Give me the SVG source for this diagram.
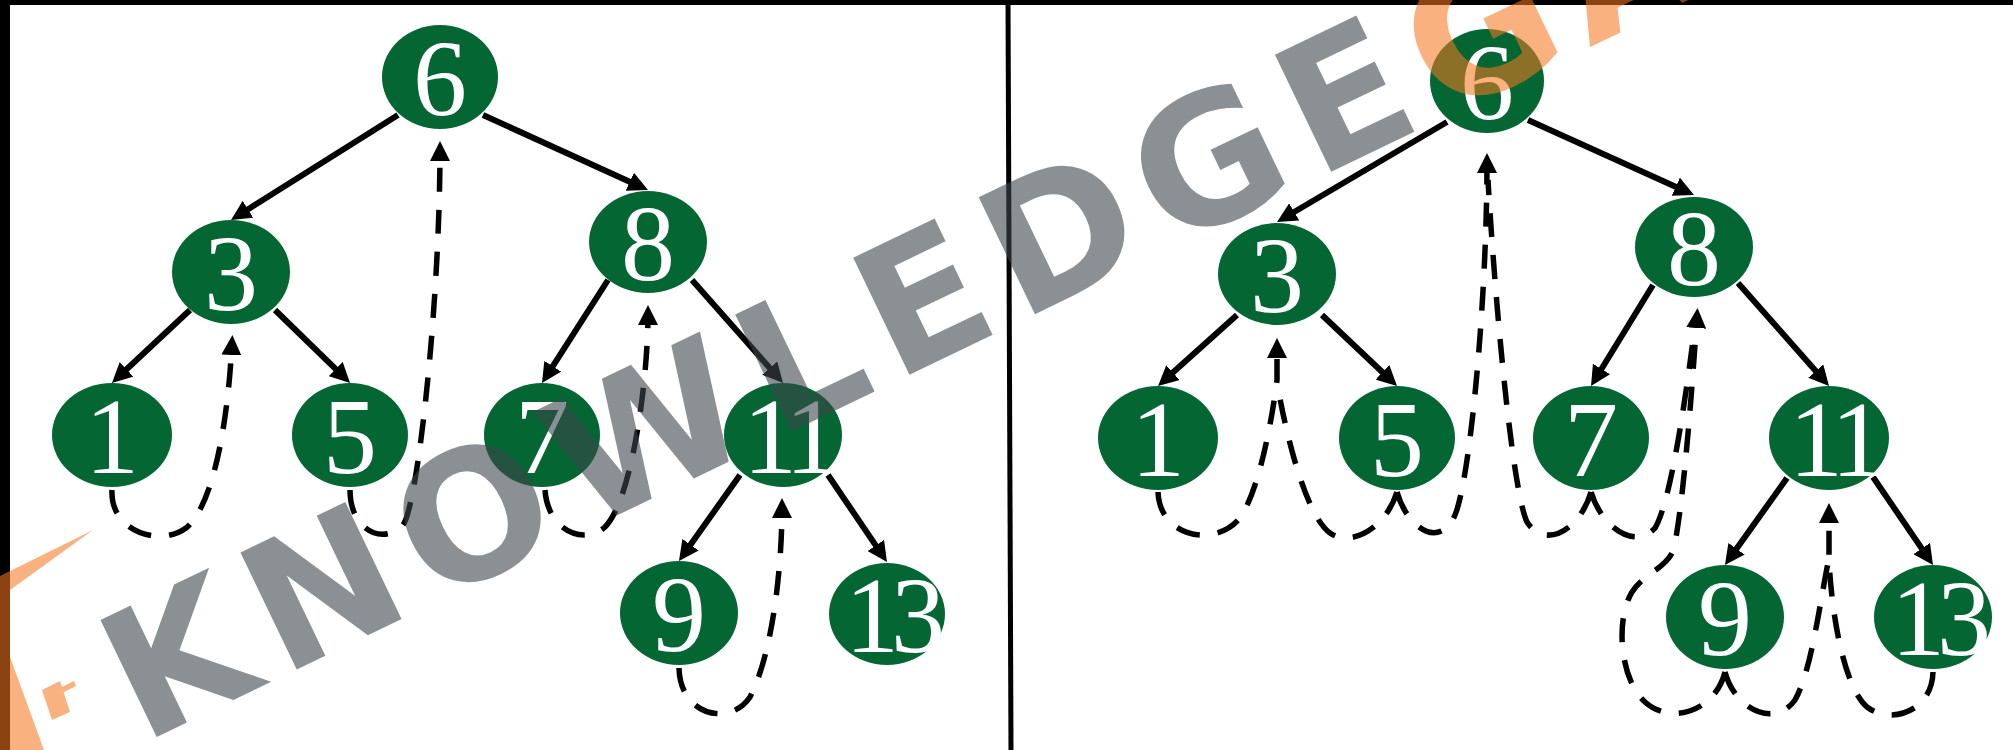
<svg xmlns="http://www.w3.org/2000/svg" width="2013" height="750" viewBox="0 0 2013 750">
<style>
.node ellipse{fill:#036633}
.node text{font-family:"Liberation Serif","Times New Roman",serif;font-size:108px;fill:#fff;text-anchor:middle}
.node text.two{letter-spacing:-8px}
.edge{stroke:#000;stroke-width:6;fill:none}
.arr{marker-end:url(#ah)}
.thread{stroke:#000;stroke-width:5.5;fill:none;stroke-dasharray:24 18}
.frame{fill:#000}
.wm{font-family:"DejaVu Sans",sans-serif;font-weight:bold;font-size:178px;letter-spacing:17.5px}
.wmg{fill:#3C464D;fill-opacity:0.6}
.wmo{fill:#F5781E;fill-opacity:0.57}
</style>
<defs>
<marker id="ah" markerUnits="userSpaceOnUse" viewBox="0 0 20 20" markerWidth="20" markerHeight="20" refX="12" refY="10" orient="auto">
<path d="M0,0 L20,10 L0,20 z" fill="#000"/>
</marker>
</defs>
<rect x="0" y="0" width="2013" height="750" fill="#fff"/>
<g id="frame">
<rect class="frame" x="0" y="0" width="2013" height="5"/>
<rect class="frame" x="0" y="0" width="10" height="750"/>
<path d="M1008,0 L1011,750" stroke="#000" stroke-width="5" fill="none"/>
</g>
<g id="connectors">
<path class="edge arr" d="M398,115 L237.8,215.7"/>
<path class="edge arr" d="M483,115 L640.7,186.7"/>
<path class="edge arr" d="M190,310 L117.8,377.5"/>
<path class="edge arr" d="M275,310 L344.3,377.4"/>
<path class="edge arr" d="M608,280 L546.3,376.3"/>
<path class="edge arr" d="M692,280 L777.7,377"/>
<path class="edge arr" d="M740,475 L683.6,554.5"/>
<path class="edge arr" d="M828,475 L882.5,555.4"/>
<path class="thread arr" d="M112,490 C110,532 160,547 186,528 C214,505 228,420 232,343"/>
<path class="thread arr" d="M350,490 C350,532 385,545 403,525 C418,505 440,300 440,149"/>
<path class="thread arr" d="M545,490 C548,532 585,545 605,527 C632,500 648,380 648,313"/>
<path class="thread arr" d="M679,668 C680,716 730,727 750,697 C772,655 782,570 782,506"/>
<path class="edge arr" d="M1447,122 L1283.9,218"/>
<path class="edge arr" d="M1528,120 L1686.7,191.7"/>
<path class="edge arr" d="M1237,315 L1164,380.6"/>
<path class="edge arr" d="M1322,315 L1391.2,380.5"/>
<path class="edge arr" d="M1653,285 L1595.2,379.2"/>
<path class="edge arr" d="M1738,283 L1823.7,380"/>
<path class="edge arr" d="M1787,478 L1729.6,558.5"/>
<path class="edge arr" d="M1873,477 L1928.5,558.4"/>
<path class="thread arr" d="M1158,492 C1160,540 1220,548 1242,515 C1260,485 1272,420 1277,380 L1277,346"/>
<path class="thread" d="M1397,492 C1385,530 1350,547 1330,533 C1305,515 1285,430 1277,382"/>
<path class="thread arr" d="M1397,492 C1407,528 1440,550 1455,515 C1470,480 1487,300 1487,161"/>
<path class="thread" d="M1591,492 C1580,530 1545,550 1527,522 C1512,490 1495,300 1488,180"/>
<path class="thread" d="M1591,492 C1602,528 1635,550 1655,528 C1672,500 1688,380 1695,325"/>
<path class="thread arr" d="M1725,672 C1715,712 1670,725 1645,702 C1620,680 1615,620 1632,592 C1645,572 1668,568 1674,548 C1682,510 1690,420 1697,316"/>
<path class="thread" d="M1725,672 C1735,710 1775,728 1795,700 C1812,670 1820,600 1829,558"/>
<path class="thread arr" d="M1933,672 C1932,712 1890,725 1867,707 C1845,688 1832,620 1829,560 L1829,511"/>
</g>
<g id="L6" class="node"><ellipse cx="440" cy="77" rx="58" ry="52"/><text x="440" y="115">6</text></g>
<g id="L3" class="node"><ellipse cx="231" cy="272" rx="59" ry="52"/><text x="231" y="310">3</text></g>
<g id="L8" class="node"><ellipse cx="648" cy="242" rx="59" ry="51"/><text x="648" y="280">8</text></g>
<g id="L1" class="node"><ellipse cx="112" cy="435" rx="60" ry="52"/><text x="112" y="473">1</text></g>
<g id="L5" class="node"><ellipse cx="350" cy="435" rx="58" ry="52"/><text x="350" y="473">5</text></g>
<g id="L7" class="node"><ellipse cx="542" cy="435" rx="58" ry="52"/><text x="542" y="473">7</text></g>
<g id="L11" class="node"><ellipse cx="783" cy="435" rx="59" ry="52"/><text class="two" x="787" y="473">11</text></g>
<g id="L9" class="node"><ellipse cx="679" cy="613" rx="59" ry="52"/><text x="679" y="651">9</text></g>
<g id="L13" class="node"><ellipse cx="887" cy="614" rx="58" ry="51"/><text class="two" x="891" y="652">13</text></g>
<g id="R6" class="node"><ellipse cx="1487" cy="81" rx="57" ry="52"/><text x="1487" y="119">6</text></g>
<g id="R3" class="node"><ellipse cx="1277" cy="274" rx="59" ry="51"/><text x="1277" y="312">3</text></g>
<g id="R8" class="node"><ellipse cx="1694" cy="247" rx="59" ry="50"/><text x="1694" y="285">8</text></g>
<g id="R1" class="node"><ellipse cx="1158" cy="438" rx="60" ry="52"/><text x="1158" y="476">1</text></g>
<g id="R5" class="node"><ellipse cx="1397" cy="438" rx="58" ry="52"/><text x="1397" y="476">5</text></g>
<g id="R7" class="node"><ellipse cx="1591" cy="438" rx="58" ry="52"/><text x="1591" y="476">7</text></g>
<g id="R11" class="node"><ellipse cx="1829" cy="438" rx="60" ry="52"/><text class="two" x="1833" y="476">11</text></g>
<g id="R9" class="node"><ellipse cx="1725" cy="617" rx="59" ry="52"/><text x="1725" y="655">9</text></g>
<g id="R13" class="node"><ellipse cx="1933" cy="617" rx="59" ry="52"/><text class="two" x="1937" y="655">13</text></g>
<g id="watermark">
<polygon class="wmo" points="93,530 0,576 0,750 44,750 10,657 10,590"/>
<path class="wmo" d="M42,690 L60,681 L70,712 L52,720 Z M60,688 L74,681 L76,686 L62,693 Z"/>
<text class="wm" transform="translate(142,744) rotate(-25.7)" x="0" y="0"><tspan class="wmg">KNOWLEDGE</tspan><tspan class="wmo">GA</tspan></text>
</g>
</svg>
